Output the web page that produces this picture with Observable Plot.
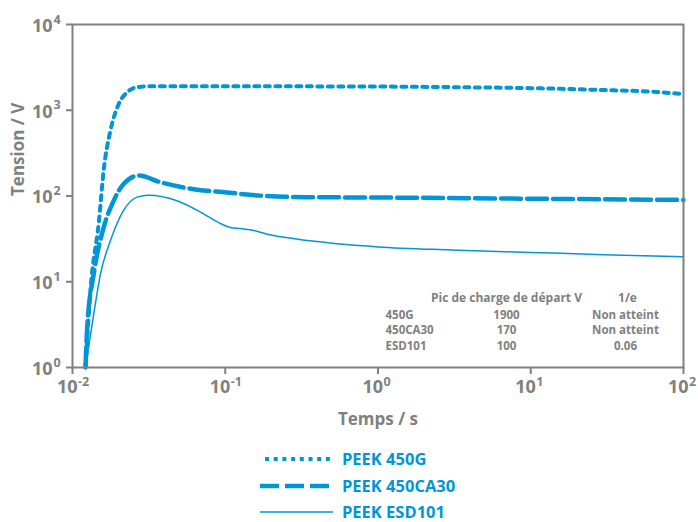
<!DOCTYPE html>
<html><head><meta charset="utf-8">
<script src="https://cdn.jsdelivr.net/npm/d3@7"></script>
<script src="https://cdn.jsdelivr.net/npm/@observablehq/plot@0.6"></script>
<style>
body{margin:0;background:#fff;font-family:"Open Sans",sans-serif;}
#legend{padding-top:5px;margin-left:260px;}
.row{display:flex;align-items:center;height:27px;}
.row:last-child{height:25px;}
.row span{color:#0096d6;font-weight:700;font-size:16.5px;margin-left:2px;line-height:20px;}
</style></head><body><div id="chart"></div><div id="legend"></div>
<script>
const xTicks=[0.01,0.1,1,10,100];
const xExp=["-2","-1","0","1","2"];
const yTicks=[1,10,100,1000,10000];
const yExp=["0","1","2","3","4"];
const seriesNames=["PEEK 450G","PEEK 450CA30","PEEK ESD101"];

const t450G=[0.01216,0.0131,0.0149,0.016,0.0177,0.0201,0.0228,0.0265,0.032,0.05,0.1,0.3,1,3,10,15.5,30,61,100];
const v450G=[1,7.9,51,200,575,1190,1620,1860,1900,1905,1905,1900,1890,1860,1810,1780,1720,1650,1540];

const t450CA30=[0.01216,0.01248,0.01377,0.016,0.0186,0.0216,0.0271,0.0376,0.0621,0.1026,0.1694,0.342,1,10,100];
const v450CA30=[1,2.93,12.3,43,88,138,173,145,120,110,101,97,96,93,90];

const tESD101=[0.01216,0.01377,0.01524,0.0177,0.0216,0.0265,0.0315,0.0483,0.0721,0.0935,0.108,0.125,0.145,0.2,0.36,1,3,10,30,100];
const vESD101=[1,4.2,12.3,30,68,97,102,88,62,47.5,43,41.7,40.5,35,30,25.5,23.5,22,20.7,19.5];

const tableHeader=["Pic de charge de départ V","1/e"];
const tableNames=["450G","450CA30","ESD101"];
const tablePeak=["1900","170","100"];
const tableE=["Non atteint","Non atteint","0.06"];

const blue="#0096d6", gray="#808080";
const zip=(ts,vs)=>ts.map((t,i)=>({t,v:vs[i]}));
const d1=zip(t450G,v450G), d2=zip(t450CA30,v450CA30), d3=zip(tESD101,vESD101);
const xLab=xTicks.map((v,i)=>({v,e:xExp[i]}));
const yLab=yTicks.map((v,i)=>({v,e:yExp[i]}));
const font={fontWeight:"bold",fill:gray,fontFamily:"Open Sans"};
const tfont={...font,fontSize:11.5,frameAnchor:"bottom-right"};

const tableMarks=tableNames.flatMap((n,i)=>[
  Plot.text([n],{...tfont,dx:-298,dy:-49+i*15.5,textAnchor:"start"}),
  Plot.text([tablePeak[i]],{...tfont,dx:-177,dy:-49+i*15.5,textAnchor:"middle"}),
  Plot.text([tableE[i]],{...tfont,dx:-58,dy:-49+i*15.5,textAnchor:"middle"})
]);

const chart=Plot.plot({
  width:698,height:440,
  marginLeft:72,marginRight:15,marginTop:24,marginBottom:73,
  x:{type:"log",domain:[0.01,100]},
  y:{type:"log",domain:[1,10000]},
  marks:[
    Plot.axisX({ticks:xTicks,tickFormat:()=>"",tickSize:7,stroke:gray,strokeWidth:2,label:null}),
    Plot.axisY({ticks:yTicks,tickFormat:()=>"",tickSize:6,stroke:gray,strokeWidth:2,label:null}),
    Plot.line(d1,{x:"t",y:"v",stroke:blue,strokeWidth:4,strokeDasharray:"5,5.5",curve:"monotone-x"}),
    Plot.line(d2,{x:"t",y:"v",stroke:blue,strokeWidth:4.5,strokeDasharray:"20,6",curve:"monotone-x"}),
    Plot.line(d3,{x:"t",y:"v",stroke:blue,strokeWidth:1.5,curve:"monotone-x"}),
    Plot.frame({stroke:gray,strokeWidth:2}),
    Plot.text(xLab,{x:"v",text:()=>"10",frameAnchor:"bottom",textAnchor:"end",dx:5,dy:25,fontSize:18,...font}),
    Plot.text(xLab,{x:"v",text:"e",frameAnchor:"bottom",textAnchor:"start",dx:5.5,dy:18,fontSize:12.5,...font}),
    Plot.text(yLab,{y:"v",text:()=>"10",frameAnchor:"left",textAnchor:"end",dx:-20,dy:1.5,fontSize:18,...font}),
    Plot.text(yLab,{y:"v",text:"e",frameAnchor:"left",textAnchor:"start",dx:-19,dy:-5,fontSize:12.5,...font}),
    Plot.text(["Tension / V"],{frameAnchor:"left",dx:-54,rotate:-90,fontSize:17,...font}),
    Plot.text(["Temps / s"],{frameAnchor:"bottom",dy:57,fontSize:17,...font}),
    Plot.text([tableHeader[0]],{...tfont,fontSize:12,dx:-177,dy:-65.5,textAnchor:"middle"}),
    Plot.text([tableHeader[1]],{...tfont,fontSize:12,dx:-56,dy:-65.5,textAnchor:"middle"}),
    ...tableMarks
  ]
});
document.getElementById("chart").appendChild(chart);

const styles=[{w:4,d:"4,4.7",x0:5},{w:4.5,d:"19,6",x0:0},{w:1.5,d:null,x0:0}];
const leg=document.getElementById("legend");
seriesNames.forEach((name,i)=>{
  const s=styles[i];
  const row=document.createElement("div");row.className="row";
  row.innerHTML=`<svg width="80" height="20"><line x1="${s.x0}" x2="73" y1="10" y2="10" stroke="${blue}" stroke-width="${s.w}" ${s.d?`stroke-dasharray="${s.d}"`:""}/></svg><span>${name}</span>`;
  leg.appendChild(row);
});
</script></body></html>
